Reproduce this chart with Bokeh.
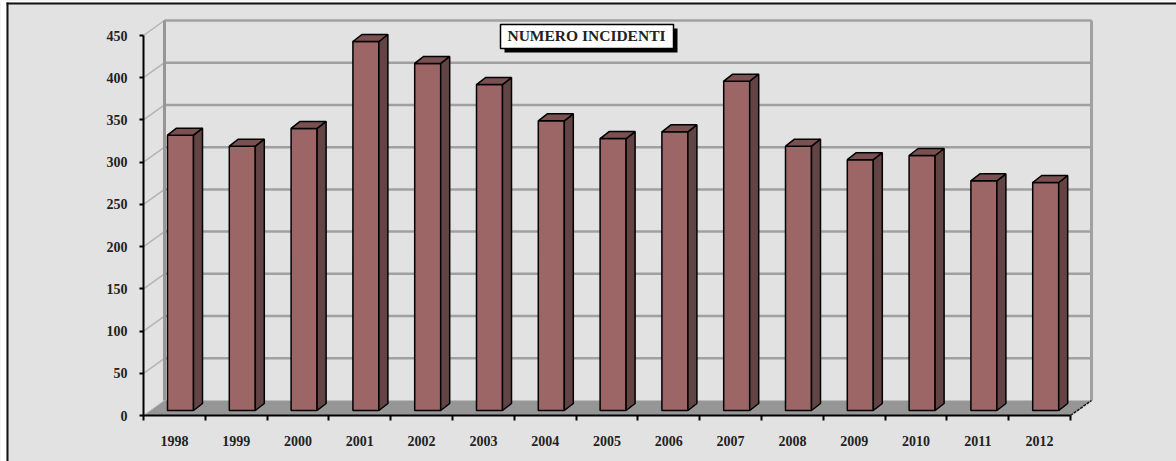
from bokeh.plotting import figure
from bokeh.models import Range1d, LinearAxis, FixedTicker
from bokeh.core.properties import value
from bokeh.embed import file_html
from bokeh.resources import INLINE

years = ["1998","1999","2000","2001","2002","2003","2004","2005","2006","2007","2008","2009","2010","2011","2012"]
incidenti = [326,313,334,437,411,386,343,322,330,390,313,297,302,272,270]
y_ticks = [0,50,100,150,200,250,300,350,400,450]
title_text = "NUMERO INCIDENTI"

W, H = 1176, 461
ORIGIN_X, ORIGIN_Y = 143, 415   # pixel of the axes' corner
PX_X = 61.8          # pixels per category
PX_Y = 380 / 450     # pixels per incident
dx = lambda px: px / PX_X
dy = lambda px: px / PX_Y
X = lambda px: (px - ORIGIN_X) / PX_X
Y = lambda py: (ORIGIN_Y - py) / PX_Y

n = len(years)
depth_x, depth_y = dx(21), dy(15)
p = figure(width=W, height=H, output_backend="svg", toolbar_location=None,
           x_range=Range1d(X(0), X(W)), y_range=Range1d(Y(H), Y(0)),
           x_axis_type=None, y_axis_type=None, min_border=0,
           background_fill_color="#e2e2e2", border_fill_color="#e2e2e2", outline_line_color=None)
p.grid.visible = False

# white page strip and dark frame edges (top and left)
p.quad(left=X(0), right=X(6), top=Y(0), bottom=Y(H), fill_color="#ffffff", line_color=None)
p.quad(left=X(0), right=X(W), top=Y(0), bottom=Y(2), fill_color="#ffffff", line_color=None)
p.quad(left=X(6), right=X(8), top=Y(2), bottom=Y(H), fill_color="#111111", line_color=None)
p.quad(left=X(6), right=X(W), top=Y(2), bottom=Y(4), fill_color="#111111", line_color=None)

# floor
p.patch([0, depth_x, n + depth_x, n], [0, depth_y, depth_y, 0], fill_color="#969696", line_color=None)
# side wall diagonals
for t in y_ticks[1:]:
    p.line([0, depth_x], [t, t + depth_y], line_color="#b4b4b4", line_width=1.5)
p.line([0, depth_x], [0, depth_y], line_color="#b4b4b4", line_width=1)
# back wall
for t in y_ticks[1:]:
    p.line([depth_x, n + depth_x], [t + depth_y, t + depth_y], line_color="#a0a0a0", line_width=2.5)
p.line([depth_x, depth_x], [depth_y, 450 + depth_y], line_color="#969696", line_width=3)
p.line([n + depth_x, n + depth_x], [depth_y, 450 + depth_y], line_color="#a0a0a0", line_width=3)
p.line([n, n + depth_x], [0, depth_y], line_color="#111111", line_width=1.5, line_dash="3 1")

# bars
base = dy(5)
lefts = [i + dx(24) for i in range(n)]
rights = [l + dx(26) for l in lefts]
tops = [v + base for v in incidenti]
sx, sy = dx(9), dy(7)
p.quad(left=lefts, right=rights, bottom=base, top=tops, fill_color="#9c6666", line_color="#000000", line_width=1.5)
p.patches([[r, r + sx, r + sx, r] for r in rights],
          [[base, base + sy, t + sy, t] for t in tops],
          fill_color="#634444", line_color="#000000", line_width=1.5)
p.patches([[l, l + sx, r + sx, r] for l, r in zip(lefts, rights)],
          [[t, t + sy, t + sy, t] for t in tops],
          fill_color="#7a5050", line_color="#000000", line_width=1.5)

# title box
p.quad(left=X(504), right=X(677), bottom=Y(52), top=Y(28), fill_color="#000000", line_color=None)
p.quad(left=X(500), right=X(673), bottom=Y(48), top=Y(24), fill_color="#ffffff", line_color="#000000", line_width=1.5)
p.text(x=[X(586)], y=[Y(34.5)], text=[title_text], text_align="center", text_baseline="middle",
       text_font=value("Liberation Serif"), text_font_style="bold", text_font_size="15.5px", text_color="#222222")

# axes
centers = [i + 0.5 for i in range(n)]
xax = LinearAxis(ticker=FixedTicker(ticks=centers, minor_ticks=list(range(n + 1))),
                 major_label_overrides={c: y for c, y in zip(centers, years)},
                 bounds=(0, n), fixed_location=0, major_tick_in=0, major_tick_out=0, minor_tick_in=0, minor_tick_out=5,
                 axis_line_color="#000000", axis_line_width=2, minor_tick_line_color="#000000", minor_tick_line_width=2,
                 major_label_standoff=15, major_label_text_font="Liberation Serif", major_label_text_font_style="bold",
                 major_label_text_font_size="14px", major_label_text_color="#222222")
p.add_layout(xax, "below")
yax = LinearAxis(ticker=FixedTicker(ticks=y_ticks), bounds=(0, 450), fixed_location=0, major_tick_in=0, major_tick_out=4,
                 minor_tick_line_color=None, axis_line_color="#000000", axis_line_width=2,
                 major_tick_line_color="#000000", major_tick_line_width=2, major_label_standoff=12,
                 major_label_text_font="Liberation Serif", major_label_text_font_style="bold",
                 major_label_text_font_size="14px", major_label_text_color="#222222")
p.add_layout(yax, "left")

open("out.html", "w").write(file_html(p, INLINE))
